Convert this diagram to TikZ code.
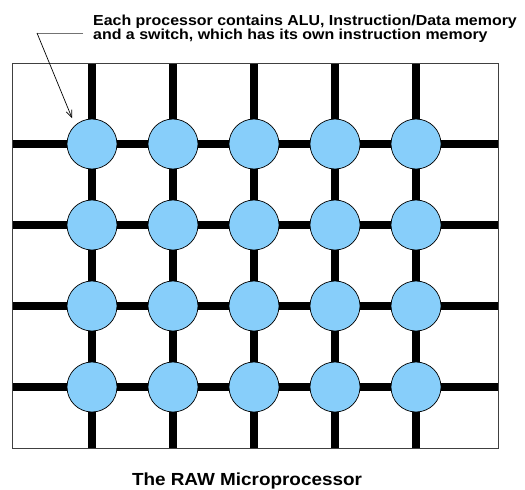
\documentclass[tikz,border=0pt]{standalone}
\usepackage{fontspec}
\setmainfont{Liberation Sans}
\newfontfamily\notefont[FakeStretch=1.1]{Liberation Sans}
\newfontfamily\titlefont[FakeStretch=1.08]{Liberation Sans}
\usetikzlibrary{arrows.meta}
\begin{document}
\begin{tikzpicture}[x=1pt,y=-1pt,
  proc/.style={circle,draw=black,line width=0.7pt,fill=procblue,minimum size=50pt,inner sep=0pt},
  bus/.style={line width=8.5pt,black},
  frame/.style={draw=black!75,line width=1pt},
  lbl/.style={font=\notefont\fontsize{14.5}{14.5}\selectfont\bfseries,inner sep=0pt,anchor=base west},
  ttl/.style={font=\titlefont\fontsize{17.5}{17.5}\selectfont\bfseries,inner sep=0pt,anchor=base}]
\definecolor{procblue}{HTML}{87CEFA}
\useasboundingbox (0,0) rectangle (525,490);
\fill[white] (0,0) rectangle (525,490);
% frame corners
\coordinate (fTL) at (12,63);
\coordinate (fBR) at (498,448);
% bus lines
\foreach \i/\x in {1/92,2/173,3/254,4/335,5/416}{
  \coordinate (top\i) at (\x,63);
  \coordinate (bot\i) at (\x,448);
  \draw[bus] (top\i) -- (bot\i);
}
\foreach \j/\y in {1/144,2/225,3/306,4/387}{
  \coordinate (left\j) at (12,\y);
  \coordinate (right\j) at (498,\y);
  \draw[bus] (left\j) -- (right\j);
}
\draw[frame] (fTL) rectangle (fBR);
% processors
\foreach \i/\x in {1/92,2/173,3/254,4/335,5/416}{
  \foreach \j/\y in {1/144,2/225,3/306,4/387}{
    \node[proc] (p\i\j) at (\x,\y) {};
  }
}
% label and arrow
\node[lbl] (note1) at (93,25) {Each processor contains ALU, Instruction/Data memory};
\node[lbl] (note2) at (93,39) {and a switch, which has its own instruction memory};
\coordinate (ls) at (83,33);
\coordinate (lk) at (37,33);
\coordinate (tip) at (72,118);
\draw[black!55,line width=0.9pt] (ls) -- (lk);
\draw[black,line width=0.7pt,-{Straight Barb[length=7pt,width=6pt]}] (lk) -- (tip);
\node[ttl] (title) at (247,485.5) {The RAW Microprocessor};
\end{tikzpicture}
\end{document}
